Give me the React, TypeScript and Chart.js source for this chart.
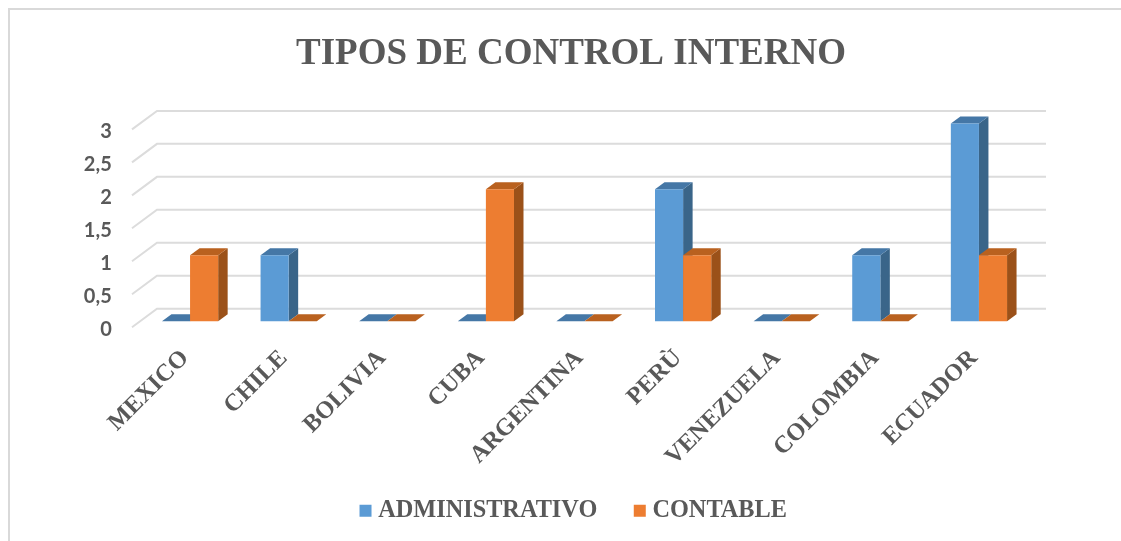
import React, { useEffect, useRef } from "react";
import { Chart, registerables } from "chart.js";

Chart.register(...registerables);

const titleText = "TIPOS DE CONTROL INTERNO";
const categories = ["MEXICO", "CHILE", "BOLIVIA", "CUBA", "ARGENTINA", "PERÙ", "VENEZUELA", "COLOMBIA", "ECUADOR"];
const administrativo = [0, 1, 0, 0, 0, 2, 0, 1, 3];
const contable = [1, 0, 0, 2, 0, 1, 0, 0, 1];

const SERIF = "'Liberation Serif', 'Times New Roman', serif";
const TEXT = "#595959";
const GRID = "#dcdcdc";
const DEPTH = { bar: { dx: 9.5, dy: 7 }, wallFront: { dx: -8.75, dy: 6 }, wallBack: { dx: 16.25, dy: -12.5 }, rightEnd: 17.75 };

const shades = [
  { top: "#4577A6", side: "#3A6589" },
  { top: "#B9611F", side: "#9B5119" },
];

const poly = (ctx: CanvasRenderingContext2D, pts: number[][], fill: string) => {
  ctx.beginPath();
  pts.forEach(([x, y], i) => (i ? ctx.lineTo(x, y) : ctx.moveTo(x, y)));
  ctx.closePath();
  ctx.fillStyle = fill;
  ctx.fill();
};

const depth3d = {
  id: "depth3d",
  afterLayout(chart: any) {
    chart.legend.left += 5;
    chart.legend.right += 5;
  },
  beforeDatasetsDraw(chart: any) {
    const { ctx, scales } = chart;
    const y = scales.y;
    const x = scales.x;
    ctx.save();
    ctx.strokeStyle = GRID;
    ctx.lineWidth = 2;
    y.ticks.forEach((t: any) => {
      const p = y.getPixelForValue(t.value);
      ctx.beginPath();
      ctx.moveTo(x.left + DEPTH.wallFront.dx, p + DEPTH.wallFront.dy);
      ctx.lineTo(x.left + DEPTH.wallBack.dx, p + DEPTH.wallBack.dy);
      ctx.lineTo(x.right + DEPTH.rightEnd, p + DEPTH.wallBack.dy);
      ctx.stroke();
    });
    ctx.restore();
  },
  // The bars are painted below, first series first, so each later front hides the earlier side.
  beforeDatasetDraw() {
    return false;
  },
  afterDatasetsDraw(chart: any) {
    const { ctx } = chart;
    const { dx, dy } = DEPTH.bar;
    chart.data.datasets.forEach((_: any, i: number) => {
      const meta = chart.getDatasetMeta(i);
      meta.data.forEach((bar: any) => {
        const p = bar.getProps(["x", "y", "base", "width"], true);
        const l = p.x - p.width / 2;
        const r = p.x + p.width / 2;
        poly(ctx, [[r, p.y], [r + dx, p.y - dy], [r + dx, p.base - dy], [r, p.base]], shades[i].side);
        poly(ctx, [[l, p.y], [l + dx, p.y - dy], [r + dx, p.y - dy], [r, p.y]], shades[i].top);
      });
      meta.controller.draw();
    });
  },
};

export default function App() {
  const ref = useRef<HTMLCanvasElement>(null);
  useEffect(() => {
    const chart = new Chart(ref.current!, {
      type: "bar",
      plugins: [depth3d],
      data: {
        labels: categories,
        datasets: [
          { label: "ADMINISTRATIVO", data: administrativo, backgroundColor: "#5B9BD5", categoryPercentage: 0.57, barPercentage: 1 },
          { label: "CONTABLE", data: contable, backgroundColor: "#ED7D31", categoryPercentage: 0.57, barPercentage: 1 },
        ],
      },
      options: {
        responsive: false,
        animation: false,
        layout: { padding: { left: 21, right: 0, top: 0, bottom: 8 } },
        plugins: {
          tooltip: { enabled: false },
          title: {
            display: true,
            text: titleText,
            color: TEXT,
            font: { family: SERIF, size: 37, weight: "bold" },
            padding: { top: 32, bottom: 47 },
          },
          legend: {
            position: "bottom",
            labels: {
              color: TEXT,
              font: { family: SERIF, size: 24.3, weight: "bold" },
              usePointStyle: true,
              pointStyle: "rect",
              boxWidth: 1,
              boxHeight: 12,
              padding: 42,
            },
          },
        },
        scales: {
          x: {
            grid: { display: false },
            border: { display: false },
            afterFit: (s: any) => {
              s.height = 135.5;
              s._computeLabelArea = () => undefined;
            },
            ticks: {
              autoSkip: false,
              minRotation: 45,
              maxRotation: 45,
              color: TEXT,
              padding: 15,
              labelOffset: -5,
              font: { family: SERIF, size: 24.3, weight: "bold" },
            },
          },
          y: {
            min: 0,
            max: 3,
            grid: { display: false },
            border: { display: false },
            afterFit: (s: any) => { s.width = 119.75; },
            ticks: {
              stepSize: 0.5,
              color: TEXT,
              padding: 21,
              labelOffset: 8,
              font: { family: "Lato, 'Open Sans', sans-serif", size: 20, weight: "bold" },
              callback: (v: any) => String(v).replace(".", ","),
            },
          },
          rightGap: {
            type: "linear",
            position: "right",
            min: 0,
            max: 1,
            grid: { display: false },
            border: { display: false },
            ticks: { display: false },
            afterFit: (s: any) => { s.width = 92.75; },
          },
        },
      },
    } as any);
    return () => chart.destroy();
  }, []);
  return (
    <div style={{ position: "absolute", left: 0, top: 0, width: 1121, height: 541, overflow: "hidden", background: "#fff" }}>
      <div style={{ position: "absolute", left: 8, top: 8, right: 0, bottom: 0, borderLeft: "2px solid #d9d9d9", borderTop: "2px solid #d9d9d9" }} />
      <canvas ref={ref} width={1121} height={541} style={{ position: "absolute", left: 0, top: 0 }} />
    </div>
  );
}
